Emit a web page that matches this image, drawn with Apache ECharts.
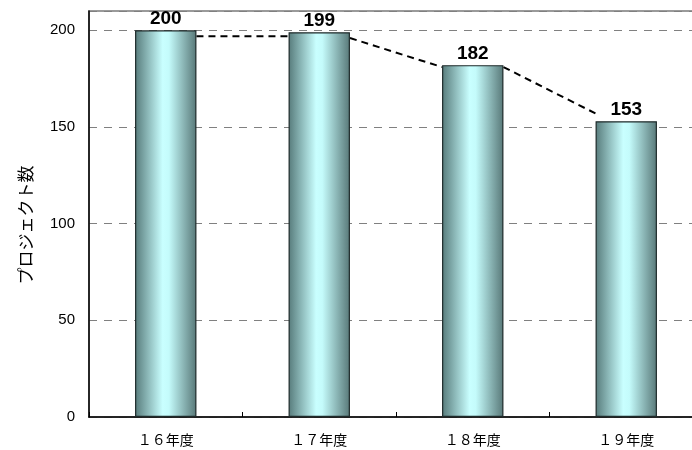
<!DOCTYPE html>
<html>
<head>
<meta charset="utf-8">
<script src="https://cdn.jsdelivr.net/npm/echarts@6/dist/echarts.min.js"></script>
<style>
html,body{margin:0;padding:0;background:#fff;overflow:hidden;}
#main{width:703px;height:450px;}
</style>
</head>
<body>
<div id="main"></div>
<script>
//年度
var categories = ['１６年度', '１７年度', '１８年度', '１９年度'];
//プロジェクト数
var projectCounts = [200, 199, 182, 153];
//区分線(点線) 始点・終点の値
var lineFrom = [197, 196, 181];
var lineTo = [197, 181, 157];
//目盛
var yMin = 0;
var yMax = 210;
var yStep = 50;

var BAR_RATIO = 0.4;

var lineData = [];
for (var i = 0; i < lineFrom.length; i++) {
	lineData.push([i, lineFrom[i], lineTo[i]]);
}

var myChart = echarts.init(document.getElementById('main'));

var option = {
	animation: false,
	grid: {
		left: 89,
		top: 11,
		bottom: 33,
		right: 0,
		show: true,
		borderColor: '#7a7a7a',
		borderWidth: 1.5
	},
	xAxis: {
		type: 'category',
		data: categories,
		boundaryGap: true,
		axisLine: { lineStyle: { color: '#000', width: 1.5 } },
		axisTick: { show: true, inside: true, length: 5, lineStyle: { color: '#000' } },
		axisLabel: {
			margin: 16,
			fontSize: 14,
			color: '#000',
			fontFamily: 'Noto Sans CJK JP'
		}
	},
	yAxis: {
		type: 'value',
		min: yMin,
		max: yMax,
		interval: yStep,
		name: 'プロジェクト数',
		nameLocation: 'middle',
		nameGap: 55,
		nameRotate: 90,
		nameTextStyle: {
			fontSize: 17,
			color: '#000',
			fontFamily: 'Noto Sans CJK JP',
			padding: [0, 22, 0, 0]
		},
		axisLine: { show: true, lineStyle: { color: '#000', width: 1.5 } },
		axisTick: { show: false },
		axisLabel: {
			margin: 14,
			fontSize: 15,
			color: '#000',
			fontFamily: 'Liberation Sans',
			formatter: function (v) { return v % yStep === 0 ? String(v) : ''; }
		},
		splitLine: {
			show: true,
			lineStyle: { color: '#808080', width: 1, type: [8, 7] }
		}
	},
	series: [
		{
			type: 'bar',
			data: projectCounts,
			barWidth: (BAR_RATIO * 100) + '%',
			itemStyle: {
				borderColor: '#1e2a2a',
				borderWidth: 1.2,
				color: new echarts.graphic.LinearGradient(0, 0, 1, 0, [
					{ offset: 0, color: '#577b7b' },
					{ offset: 0.45, color: '#c9ffff' },
					{ offset: 0.55, color: '#c4fbfb' },
					{ offset: 1, color: '#587878' }
				])
			},
			label: {
				show: true,
				position: 'top',
				distance: 2,
				fontSize: 19,
				fontWeight: 'bold',
				color: '#000',
				fontFamily: 'Liberation Sans'
			},
			z: 3
		},
		{
			//棒と棒をつなぐ点線
			type: 'custom',
			data: lineData,
			encode: { x: 0, y: [1, 2] },
			z: 2,
			renderItem: function (params, api) {
				var idx = api.value(0);
				var half = api.size([1, 0])[0] * BAR_RATIO / 2;
				var p1 = api.coord([idx, api.value(1)]);
				var p2 = api.coord([idx + 1, api.value(2)]);
				return {
					type: 'line',
					shape: { x1: p1[0] + half, y1: p1[1], x2: p2[0] - half, y2: p2[1] },
					style: { stroke: '#000', lineWidth: 2, lineDash: [7, 5] }
				};
			}
		}
	]
};

myChart.setOption(option);
</script>
</body>
</html>
